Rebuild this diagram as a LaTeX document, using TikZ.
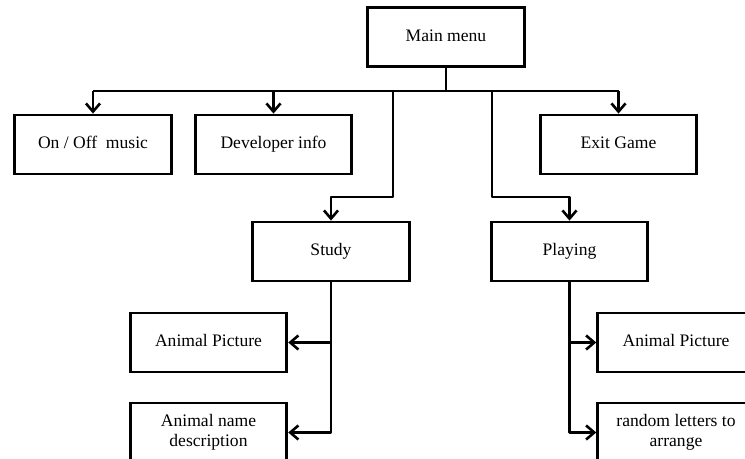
\documentclass[tikz,border=0pt]{standalone}
\usepackage{fontspec}
\setmainfont{Liberation Serif}
\usetikzlibrary{arrows.meta}

\begin{document}
\begin{tikzpicture}[x=0.03cm,y=-0.03cm]
    \tikzstyle{menu}=[draw,line width=2.4pt,minimum width=4.7cm,minimum height=1.77cm,inner sep=0pt,align=center,font=\fontsize{15}{17}\selectfont];
    \tikzstyle{item}=[menu,text height=10.5pt,text depth=3.5pt];
    \tikzstyle{link}=[line width=2.4pt,line join=round];
    \tikzstyle{arrow}=[link,-{Straight Barb[length=7pt,width=12pt,line width=2.2pt]}];
    \useasboundingbox (0,0) rectangle (745,459);
    \clip (0,0) rectangle (745,459);

    \node (main) [item] at (446,37) {Main menu};

    \node (music) [item] at (93,144.5) {On / Off\ \ music};
    \node (dev) [item] at (273.5,144.5) {Developer info};
    \node (exit) [item] at (618.5,144.5) {Exit Game};

    \node (study) [item] at (331,251.5) {Study};
    \node (play) [item] at (569.5,251.5) {Playing};

    \node (spic) [item] at (208.5,342.5) {Animal Picture};
    \node (sname) [menu] at (208.5,432.5) {Animal name\\description};

    \node (ppic) [item] at (676,342.5) {Animal Picture};
    \node (prand) [menu] at (676,432.5) {random letters to\\arrange};

    \coordinate (bus) at (446,91);
    \coordinate (sfork) at (393,91);
    \coordinate (sbend) at (393,197);
    \coordinate (pfork) at (492,91);
    \coordinate (pbend) at (492,197);

    % top level
    \draw[link] (main) -- (bus);
    \draw[link] (bus -| music) -- (bus -| exit);
    \draw[arrow] (bus -| music) -- (music);
    \draw[arrow] (bus -| dev) -- (dev);
    \draw[arrow] (bus -| exit) -- (exit);
    \draw[arrow] (sfork) -- (sbend) -- (sbend -| study) -- (study);
    \draw[arrow] (pfork) -- (pbend) -- (pbend -| play) -- (play);

    % study branch
    \draw[arrow] (study) -- (study.south |- sname) -- (sname);
    \draw[arrow] (study.south |- spic) -- (spic);

    % playing branch
    \draw[arrow] (play) -- (play.south |- prand) -- (prand);
    \draw[arrow] (play.south |- ppic) -- (ppic);
  \end{tikzpicture}
\end{document}
